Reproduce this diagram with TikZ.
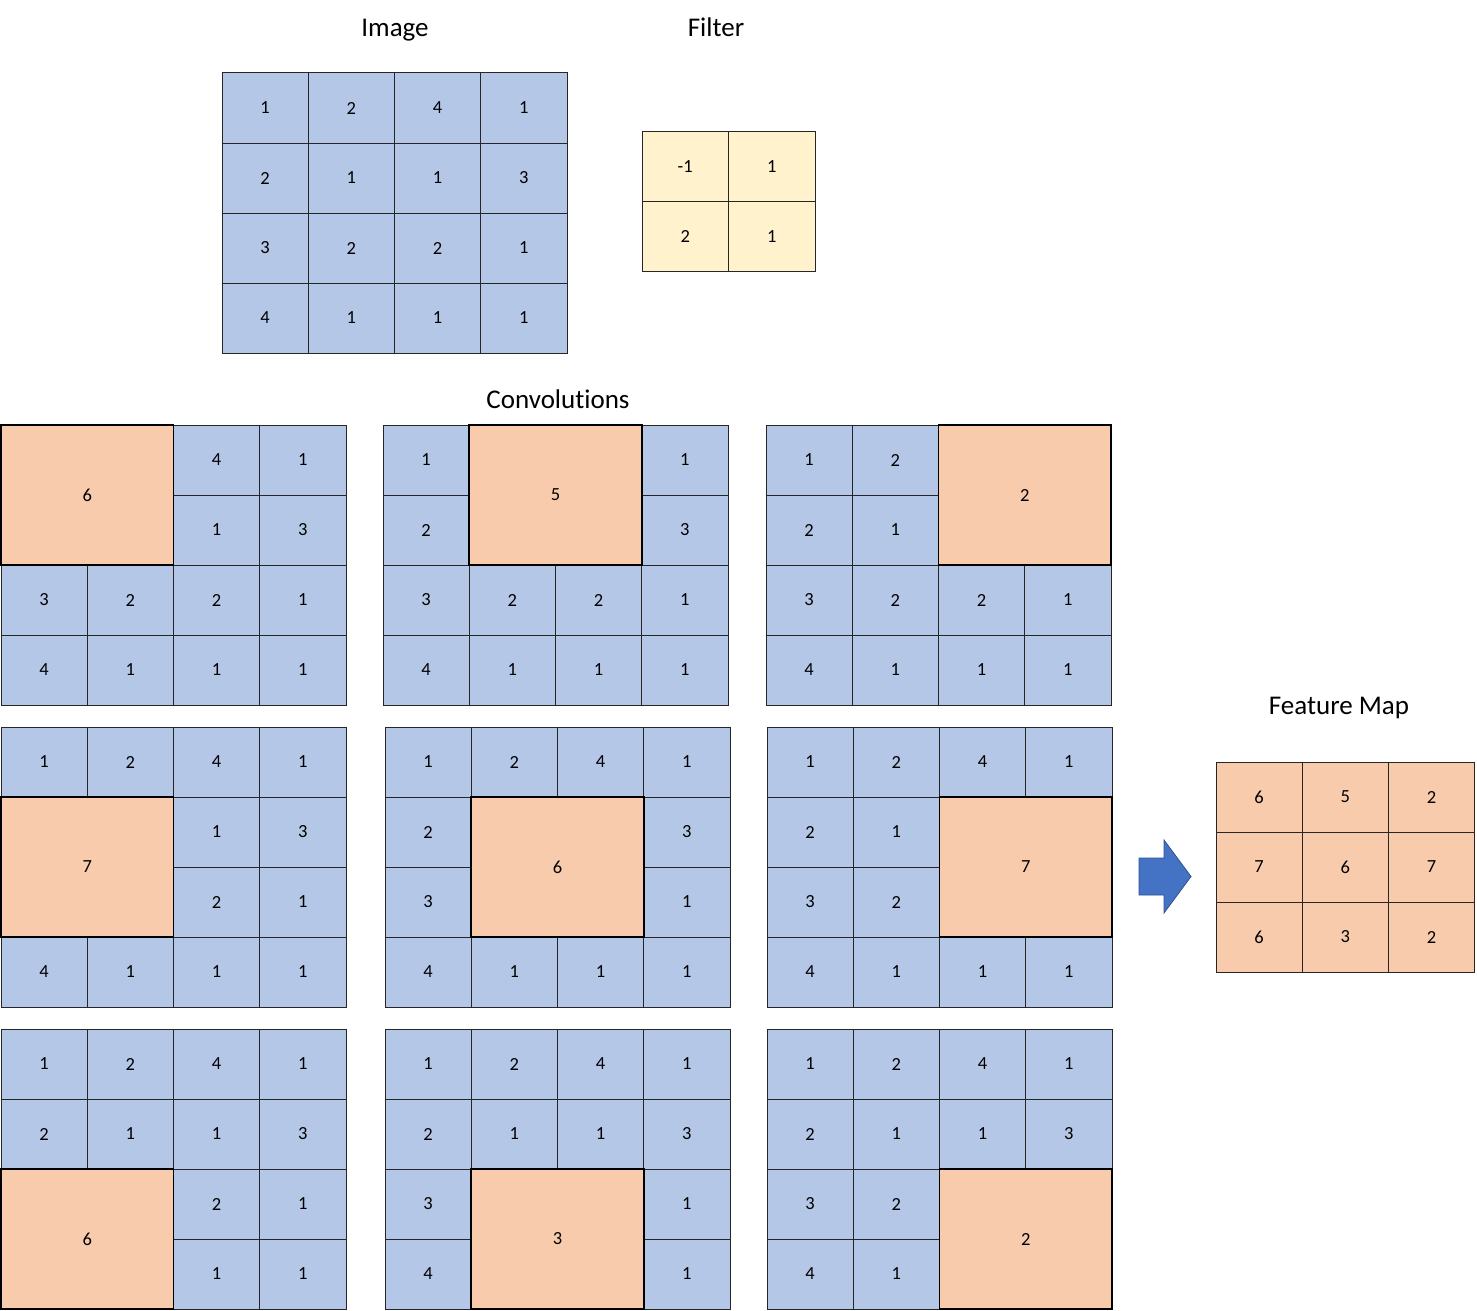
\documentclass[tikz,border=0pt]{standalone}
\usepackage{fontspec}
\setmainfont{Carlito}[Ligatures=NoCommon]
\usetikzlibrary{positioning,calc}

\definecolor{cellblue}{HTML}{B4C7E7}
\definecolor{cellorange}{HTML}{F8CBAD}
\definecolor{cellyellow}{HTML}{FFF2CC}
\definecolor{arrowblue}{HTML}{4472C4}
\definecolor{arrowedge}{HTML}{2F528F}

\newcommand{\imgrows}{1/{1,2,4,1},2/{2,1,1,3},3/{3,2,2,1},4/{4,1,1,1}}

% one convolution step: name, x, y, top row, left col, result
\newcommand{\convgrid}[6]{%
  \foreach \r/\row in \imgrows {
    \foreach \v [count=\c] in \row {
      \pgfmathtruncatemacro{\inside}{(\r>=#4)*(\r<=#4+1)*(\c>=#5)*(\c<=#5+1)}
      \ifnum\inside=0
        \node [imgcell] (#1-\r\c) at ({#2+(\c-0.5)*86.25},{#3+(\r-0.5)*70}) {\v};
      \fi
    }
  }
  \node [hicell] (#1-res) at ({#2+#5*86.25},{#3+#4*70}) {#6};
}

\begin{document}
\begin{tikzpicture}[x=1pt, y=-1pt,
    title/.style={anchor=base, font=\fontsize{27}{30}\selectfont},
    cellbox/.style={draw=black!85, line width=1pt, minimum width=86.25pt, minimum height=70pt,
        inner sep=0pt, font=\fontsize{18.5}{20}\selectfont},
    imgcell/.style={cellbox, fill=cellblue},
    fltcell/.style={cellbox, fill=cellyellow, minimum width=86.5pt, minimum height=69.5pt},
    fmcell/.style={cellbox, fill=cellorange},
    hicell/.style={cellbox, fill=cellorange, draw=black, line width=1.6pt,
        minimum width=172.5pt, minimum height=140pt}]
    \useasboundingbox (0,0) rectangle (1477,1311);

    \node [title] (imgtitle) at (395,37) {Image};
    \node [title] (flttitle) at (716,37) {Filter};
    \node [title] (convtitle) at (558,408) {Convolutions};
    \node [title] (fmtitle) at (1339,714) {Feature Map};

    \foreach \r/\row in \imgrows {
      \foreach \v [count=\c] in \row {
        \node [imgcell] (img-\r\c) at ({222+(\c-0.5)*86.25},{73+(\r-0.5)*70}) {\v};
      }
    }

    \foreach \r/\row in {1/{-1,1},2/{2,1}} {
      \foreach \v [count=\c] in \row {
        \node [fltcell] (flt-\r\c) at ({642+(\c-0.5)*86.5},{132+(\r-0.5)*69.5}) {\v};
      }
    }

    \convgrid{conv11}{1}{425}{1}{1}{6}
    \convgrid{conv12}{383}{425}{1}{2}{5}
    \convgrid{conv13}{766}{425}{1}{3}{2}
    \convgrid{conv21}{1}{727}{2}{1}{7}
    \convgrid{conv22}{385}{727}{2}{2}{6}
    \convgrid{conv23}{767}{727}{2}{3}{7}
    \convgrid{conv31}{1}{1029}{3}{1}{6}
    \convgrid{conv32}{385}{1029}{3}{2}{3}
    \convgrid{conv33}{767}{1029}{3}{3}{2}

    \draw [fill=arrowblue, draw=arrowedge, line width=0.8pt]
        (1139,858) -- (1164,858) -- (1164,840) -- (1191,876.5)
        -- (1164,913) -- (1164,895) -- (1139,895) -- cycle;

    \foreach \r/\row in {1/{6,5,2},2/{7,6,7},3/{6,3,2}} {
      \foreach \v [count=\c] in \row {
        \node [fmcell] (fm-\r\c) at ({1216+(\c-0.5)*86.25},{762+(\r-0.5)*70}) {\v};
      }
    }

\end{tikzpicture}
\end{document}
